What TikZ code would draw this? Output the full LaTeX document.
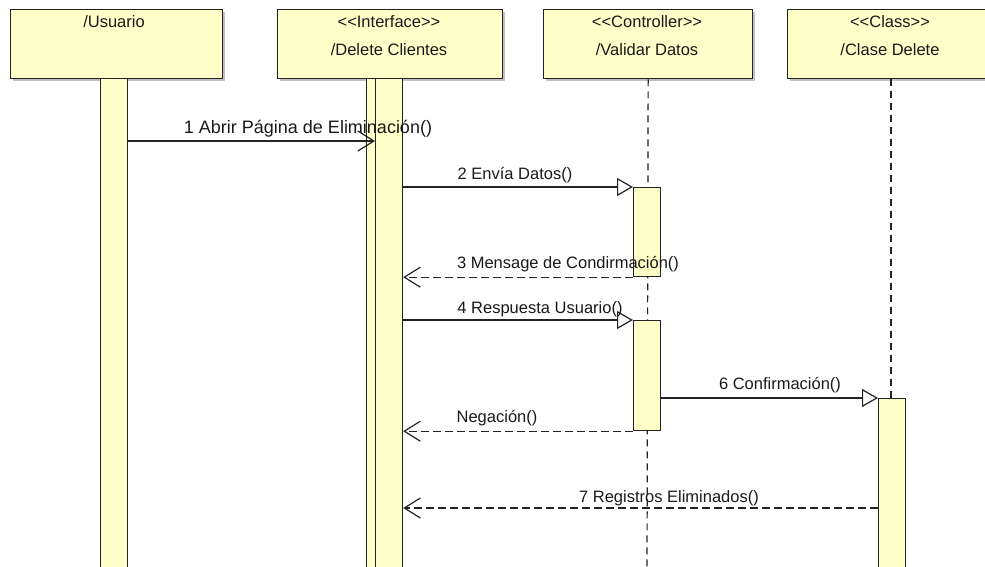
\documentclass[tikz,border=0pt]{standalone}
\usepackage{fontspec}
\setmainfont{Liberation Sans}
\usetikzlibrary{arrows.meta,shadows}
\definecolor{umlfill}{RGB}{255,255,201}
\definecolor{umlline}{RGB}{35,35,35}
\newcommand{\stl}{<\kern0pt<}
\newcommand{\str}{>\kern0pt>}
\begin{document}
\begin{tikzpicture}[x=1pt,y=-1pt,
  head/.style={rectangle, draw=umlline, fill=umlfill, line width=1.3pt, inner sep=0pt, anchor=north west,
    drop shadow={shadow xshift=2.5pt, shadow yshift=-2.5pt, fill=black!35, opacity=.7}},
  actbar/.style={rectangle, draw=umlline, fill=umlfill, line width=1.2pt, inner sep=0pt, anchor=north west, minimum width=27pt},
  lifeline/.style={draw=umlline, line width=1.2pt, dash pattern=on 7pt off 5pt},
  txt/.style={font=\fontsize{16.5pt}{19pt}\selectfont, inner sep=0pt, anchor=base, text=black!90},
  widetxt/.style={txt, font=\fontsize{18pt}{20pt}\selectfont},
  call/.style={draw=umlline, line width=1.2pt, -{Triangle[open, length=16pt, width=18pt, fill=white]}},
  sync/.style={draw=umlline, line width=1.2pt, -{Straight Barb[length=16pt, width=20pt]}},
  reply/.style={draw=umlline, line width=1.2pt, dash pattern=on 8pt off 4pt, -{Straight Barb[length=16pt, width=20pt, line width=1.2pt]}}
]
\useasboundingbox (0,0) rectangle (985,567);
\clip (0,0) rectangle (985,567);

% heads
\node[head, minimum width=212pt, minimum height=69pt] (u)  at (10,9)  {};
\node[head, minimum width=225pt, minimum height=69pt] (dc) at (277,9) {};
\node[head, minimum width=209pt, minimum height=69pt] (vd) at (543,9) {};
\node[head, minimum width=206pt, minimum height=69pt] (cd) at (787,9) {};

\node[txt] (ut)  at (114,28) {/Usuario};
\node[txt] (dcs) at (389,28) {\stl Interface\str};
\node[txt] (dct) at (389,56) {/Delete Clientes};
\node[txt] (vds) at (647,28) {\stl Controller\str};
\node[txt] (vdt) at (647,56) {/Validar Datos};
\node[txt] (cds) at (890,28) {\stl Class\str};
\node[txt] (cdt) at (890,56) {/Clase Delete};

% dashed lifelines
\coordinate (vdend) at (647,575);
\coordinate (cdend) at (891,400);
\draw[lifeline] (vd.south) -- (vdend);
\draw[lifeline] (cd.south -| cdend) -- (cdend);

% activation bars
\node[actbar, minimum height=500pt] (ub)  at (100,78) {};
\node[actbar, minimum height=500pt] (dc1) at (366,78) {};
\node[actbar, minimum height=500pt] (dc2) at (375,78) {};
\node[actbar, minimum height=89pt]  (vb1) at (633,187) {};
\node[actbar, minimum height=110pt] (vb2) at (633,320) {};
\node[actbar, minimum height=180pt] (cb)  at (878,398) {};

% messages
\coordinate (y1) at (0,141);
\coordinate (y7) at (0,508);
\draw[sync]  (ub.east |- y1) -- (dc2.west |- y1);
\draw[call]  (dc2.east |- vb1.north west) -- (vb1.north west);
\draw[reply] (vb1.south west) -- (dc2.east |- vb1.south west);
\draw[call]  (dc2.east |- vb2.north west) -- (vb2.north west);
\draw[call]  (vb2.east |- cb.north west) -- (cb.north west);
\draw[reply] (vb2.south west) -- (dc2.east |- vb2.south west);
\draw[reply] (cb.west |- y7) -- (dc2.east |- y7);

% labels
\node[widetxt] (l1) at (308,134) {1 Abrir Página de Eliminación()};
\node[txt] (l2) at (515,179) {2 Envía Datos()};
\node[txt] (l3) at (568,268) {3 Mensage de Condirmación()};
\node[txt] (l4) at (540,313) {4 Respuesta Usuario()};
\node[txt] (l5) at (497,422) {Negación()};
\node[txt] (l6) at (780,389) {6 Confirmación()};
\node[txt] (l7) at (669,502) {7 Registros Eliminados()};
\end{tikzpicture}
\end{document}
